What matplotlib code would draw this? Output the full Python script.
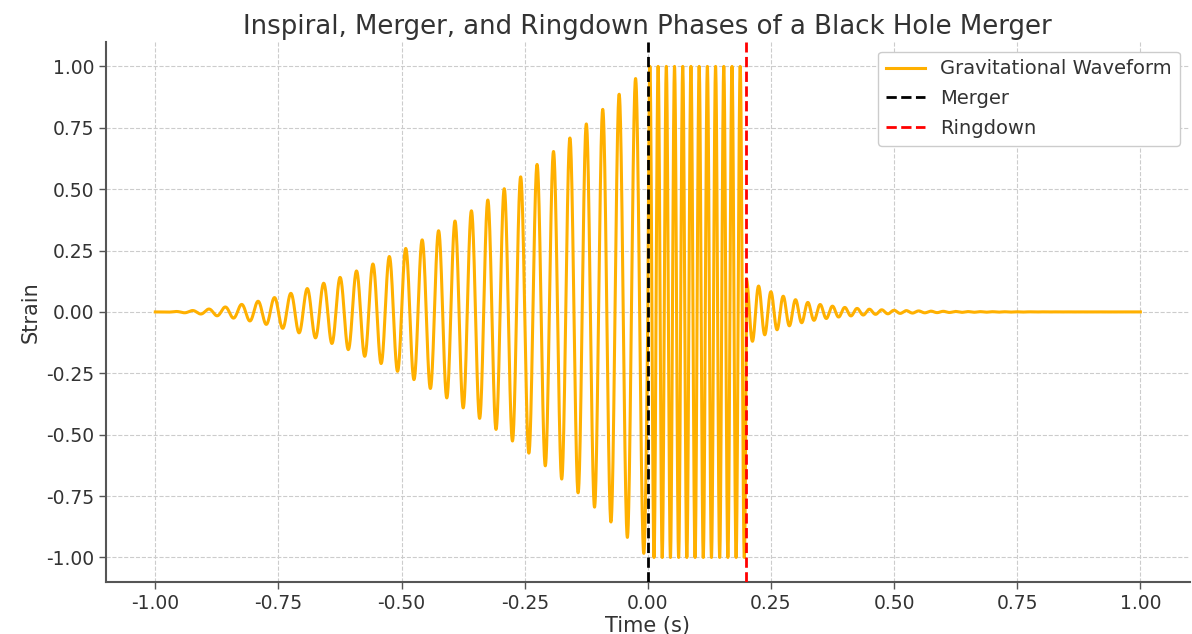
import matplotlib
matplotlib.use("Agg")
import matplotlib.pyplot as plt
import numpy as np

# phase boundaries (s) and oscillation frequencies (Hz)
phase_edges = [-1.0, 0.0, 0.2, 1.0]
phase_freqs = [30.0, 60.0, 40.0]
ringdown_decay = 10.0      # 1/s
merger_time = 0.0
ringdown_time = 0.2

x_ticks = [-1.0, -0.75, -0.5, -0.25, 0.0, 0.25, 0.5, 0.75, 1.0]
y_ticks = [-1.0, -0.75, -0.5, -0.25, 0.0, 0.25, 0.5, 0.75, 1.0]

TEXT = '#333333'
SPINE = '#555555'

t = np.linspace(phase_edges[0], phase_edges[-1], 6000)
h = np.zeros_like(t)
m1 = (t >= phase_edges[0]) & (t < phase_edges[1])
m2 = (t >= phase_edges[1]) & (t < phase_edges[2])
m3 = t >= phase_edges[2]
h[m1] = (t[m1] + 1) ** 2 * np.sin(2 * np.pi * phase_freqs[0] * t[m1])
h[m2] = np.sin(2 * np.pi * phase_freqs[1] * t[m2])
h[m3] = np.exp(-ringdown_decay * t[m3]) * np.cos(2 * np.pi * phase_freqs[2] * t[m3])

fig = plt.figure(figsize=(11.92, 6.34), dpi=100)
ax = fig.add_axes([0.089, 0.082, 0.909, 0.852])

ax.plot(t, h, color='#FFB000', lw=2.2, label='Gravitational Waveform', zorder=2)
ax.axvline(merger_time, color='black', ls='--', lw=2, label='Merger', zorder=3)
ax.axvline(ringdown_time, color='red', ls='--', lw=2, label='Ringdown', zorder=3)

ax.set_xticks(x_ticks)
ax.set_yticks(y_ticks)
ax.xaxis.set_major_formatter(plt.FormatStrFormatter('%.2f'))
ax.yaxis.set_major_formatter(plt.FormatStrFormatter('%.2f'))
ax.tick_params(labelsize=13.5, colors=TEXT, length=5, width=1)
ax.tick_params(axis='both', color=SPINE)

ax.grid(True, ls='--', color='#cccccc', lw=0.8)
ax.set_axisbelow(True)
for s in ['top', 'right']:
    ax.spines[s].set_visible(False)
for s in ['left', 'bottom']:
    ax.spines[s].set_color(SPINE)
    ax.spines[s].set_linewidth(1.5)

ax.set_title('Inspiral, Merger, and Ringdown Phases of a Black Hole Merger',
             fontsize=18.7, color=TEXT, pad=6)
ax.set_xlabel('Time (s)', fontsize=15, color=TEXT, labelpad=2)
ax.set_ylabel('Strain', fontsize=15, color=TEXT)

leg = ax.legend(loc='upper right', fontsize=14, framealpha=1, edgecolor='#cccccc',
                borderaxespad=0.5, labelspacing=0.55)
for txt in leg.get_texts():
    txt.set_color(TEXT)

fig.savefig('out.png', dpi=100)
